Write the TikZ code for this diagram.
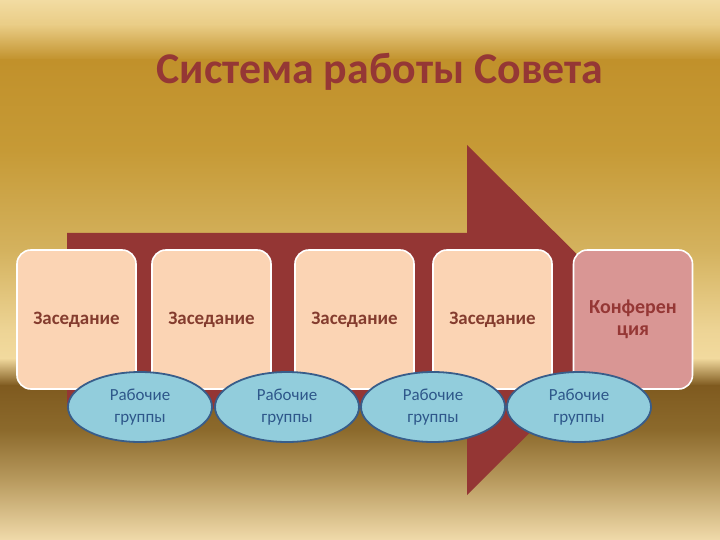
\documentclass[tikz,border=0pt]{standalone}
\usepackage{fontspec}
\setmainfont{Carlito}
\usetikzlibrary{positioning,shapes.geometric}
\definecolor{arrowclr}{HTML}{943634}
\definecolor{titleclr}{HTML}{953735}
\definecolor{sessclr}{HTML}{FBD4B4}
\definecolor{sesstxt}{HTML}{843C2E}
\definecolor{confclr}{HTML}{D99694}
\definecolor{grpclr}{HTML}{92CDDC}
\definecolor{grpline}{HTML}{385D8A}
\definecolor{grptxt}{HTML}{2E578A}
\definecolor{bgA}{HTML}{F2DCA2}
\definecolor{bgB}{HTML}{E9CC85}
\definecolor{bgC}{HTML}{C1912B}
\definecolor{bgD}{HTML}{C69A36}
\definecolor{bgE}{HTML}{D4B25E}
\definecolor{bgF}{HTML}{EDD495}
\definecolor{bgG}{HTML}{F2DA9E}
\definecolor{bgH}{HTML}{7F5A1F}
\definecolor{bgI}{HTML}{8C6A2C}
\definecolor{bgJ}{HTML}{B89A5E}
\definecolor{bgK}{HTML}{F0DAAA}
\tikzset{
    session/.style={rectangle,draw=white,line width=1.6pt,fill=sessclr,
                    rounded corners=14pt,minimum width=119bp,minimum height=139bp,
                    inner sep=2pt,text=sesstxt,font=\fontsize{19}{22}\selectfont\bfseries},
    conf/.style={session,fill=confclr,text=titleclr,align=center,
                 font=\fontsize{20}{22}\selectfont\bfseries},
    group/.style={ellipse,draw=grpline,line width=1.8pt,fill=grpclr,
                  minimum width=144bp,minimum height=70bp,inner sep=0pt,
                  text=grptxt,align=center,font=\fontsize{17}{22}\selectfont},
    band/.style={draw=none},
}
\begin{document}
\begin{tikzpicture}[x=1bp,y=-1bp]
\useasboundingbox (0,0) rectangle (720,540);
% background bands
\shade[band,top color=bgA,bottom color=bgB] (0,0) rectangle (720,25.5);
\shade[band,top color=bgB,bottom color=bgC] (0,25) rectangle (720,60.5);
\shade[band,top color=bgC,bottom color=bgD] (0,60) rectangle (720,150.5);
\shade[band,top color=bgD,bottom color=bgE] (0,150) rectangle (720,250.5);
\shade[band,top color=bgE,bottom color=bgF] (0,250) rectangle (720,330.5);
\shade[band,top color=bgF,bottom color=bgG] (0,330) rectangle (720,358.5);
\shade[band,top color=bgG,bottom color=bgH] (0,358) rectangle (720,385.5);
\shade[band,top color=bgH,bottom color=bgI] (0,385) rectangle (720,430.5);
\shade[band,top color=bgI,bottom color=bgJ] (0,430) rectangle (720,480.5);
\shade[band,top color=bgJ,bottom color=bgK] (0,480) rectangle (720,540);

\node[text=titleclr,font=\fontsize{44}{48}\selectfont\bfseries] (title) at (380,72) {Система работы Совета};

% arrow
\fill[arrowclr] (67,233) -- (467,233) -- (467,145) -- (643,320)
    -- (467,495) -- (467,409) -- (67,409) -- cycle;

% sessions
\node[session] (s1) at (76.5,319.5) {Заседание};
\node[session] (s2) at (211.5,319.5) {Заседание};
\node[session] (s3) at (354.5,319.5) {Заседание};
\node[session] (s4) at (492.5,319.5) {Заседание};
\node[conf] (conf) at (633,319.5) {Конферен\\ция};

% working groups
\node[group] (g1) at (140,407) {Рабочие\\группы};
\node[group] (g2) at (287,407) {Рабочие\\группы};
\node[group] (g3) at (433,407) {Рабочие\\группы};
\node[group] (g4) at (579,407) {Рабочие\\группы};
\end{tikzpicture}
\end{document}
